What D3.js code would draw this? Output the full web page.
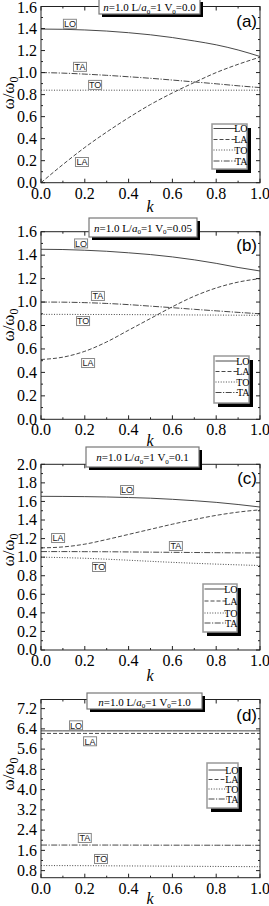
<!DOCTYPE html>
<html><head><meta charset="utf-8">
<script src="https://cdn.jsdelivr.net/npm/d3@7/dist/d3.min.js"></script>
<style>body{margin:0;background:#fff}svg{display:block}</style>
</head><body>
<svg id="chart" width="269" height="906"></svg>
<script>
// ---------- data ----------
const kValues = [0, 0.1, 0.2, 0.3, 0.4, 0.5, 0.6, 0.7, 0.8, 0.9, 1.0];
const modes = ["LO", "LA", "TO", "TA"];
const panelLetters = ["(a)", "(b)", "(c)", "(d)"];
const v0Values = ["0.0", "0.05", "0.1", "1.0"];
const xTickLabels = [0, 0.2, 0.4, 0.6, 0.8, 1.0];

// panel (a) V0 = 0.0
const aLO = [1.395, 1.393, 1.387, 1.377, 1.362, 1.343, 1.318, 1.287, 1.252, 1.205, 1.146];
const aLA = [0.0, 0.165, 0.32, 0.46, 0.59, 0.71, 0.815, 0.91, 1.0, 1.075, 1.14];
const aTO = [0.84, 0.84, 0.84, 0.84, 0.84, 0.84, 0.84, 0.84, 0.84, 0.84, 0.84];
const aTA = [1.0, 0.995, 0.986, 0.975, 0.962, 0.948, 0.932, 0.915, 0.898, 0.88, 0.864];
// panel (b) V0 = 0.05
const bLO = [1.45, 1.448, 1.442, 1.433, 1.42, 1.405, 1.385, 1.36, 1.33, 1.295, 1.265];
const bLA = [0.51, 0.53, 0.58, 0.66, 0.76, 0.86, 0.96, 1.05, 1.12, 1.17, 1.2];
const bTO = [0.895, 0.895, 0.894, 0.894, 0.893, 0.892, 0.891, 0.89, 0.889, 0.888, 0.887];
const bTA = [1.0, 0.999, 0.995, 0.988, 0.978, 0.965, 0.952, 0.938, 0.925, 0.912, 0.9];
// panel (c) V0 = 0.1
const cLO = [1.655, 1.654, 1.652, 1.648, 1.642, 1.635, 1.623, 1.608, 1.59, 1.567, 1.54];
const cLA = [1.1, 1.11, 1.14, 1.19, 1.245, 1.3, 1.355, 1.405, 1.45, 1.485, 1.51];
const cTO = [1.0, 0.995, 0.988, 0.978, 0.967, 0.955, 0.944, 0.934, 0.925, 0.917, 0.91];
const cTA = [1.06, 1.06, 1.059, 1.058, 1.056, 1.054, 1.052, 1.05, 1.048, 1.046, 1.045];
// panel (d) V0 = 1.0
const dLO = [6.32, 6.32, 6.32, 6.32, 6.32, 6.32, 6.32, 6.32, 6.32, 6.32, 6.32];
const dLA = [6.22, 6.22, 6.22, 6.22, 6.22, 6.22, 6.22, 6.22, 6.22, 6.22, 6.22];
const dTO = [1.0, 0.998, 0.995, 0.99, 0.985, 0.98, 0.975, 0.97, 0.965, 0.96, 0.955];
const dTA = [1.81, 1.81, 1.81, 1.81, 1.808, 1.806, 1.805, 1.804, 1.803, 1.802, 1.8];

// y tick labels per panel
const yTicksA = [0, 0.2, 0.4, 0.6, 0.8, 1.0, 1.2, 1.4, 1.6];
const yTicksB = [0, 0.2, 0.4, 0.6, 0.8, 1.0, 1.2, 1.4, 1.6];
const yTicksC = [0, 0.2, 0.4, 0.6, 0.8, 1.0, 1.2, 1.4, 1.6, 1.8, 2.0];
const yTicksD = [0.8, 1.6, 2.4, 3.2, 4.0, 4.8, 5.6, 6.4, 7.2];

// curve label anchor points (k, omega) per panel, order LO, LA, TO, TA
const labelKA = [0.132, 0.187, 0.247, 0.178];
const labelVA = [1.443, 0.188, 0.888, 1.052];
const labelKB = [0.183, 0.215, 0.192, 0.26];
const labelVB = [1.50, 0.48, 0.838, 1.052];
const labelKC = [0.393, 0.078, 0.265, 0.616];
const labelVC = [1.723, 1.206, 0.894, 1.12];
const labelKD = [0.16, 0.224, 0.274, 0.2];
const labelVD = [6.54, 5.91, 1.26, 2.09];

// ---------- layout / style ----------
const panels = [
  {series:[aLO,aLA,aTO,aTA], yDomain:[0,1.6], yTicks:yTicksA, minor:0.1, top:6.5, bottom:182.7, lk:labelKA, lv:labelVA,
   title:{x:99,y:-1,w:101,h:15,ty:11}, legend:{x:212,y:124,w:35,h:45,dy:[4.5,15.5,26,37]}, letterY:27, yTitleY:93, kY:212},
  {series:[bLO,bLA,bTO,bTA], yDomain:[0,1.6], yTicks:yTicksB, minor:0.1, top:231.7, bottom:419.3, lk:labelKB, lv:labelVB,
   title:{x:89,y:218,w:108,h:19,ty:231.5}, legend:{x:214,y:356,w:35,h:47,dy:[5,15.5,26,36.5]}, letterY:251, yTitleY:325, kY:446},
  {series:[cLO,cLA,cTO,cTA], yDomain:[0,2.0], yTicks:yTicksC, minor:0.1, top:464.3, bottom:650, lk:labelKC, lv:labelVC,
   title:{x:86,y:447,w:113,h:20,ty:461}, legend:{x:203,y:584,w:34,h:48,dy:[5,17,29,39]}, letterY:484, yTitleY:550, kY:681},
  {series:[dLO,dLA,dTO,dTA], yDomain:[0.52,7.56], yTicks:yTicksD, minor:0.4, top:699.5, bottom:877.7, lk:labelKD, lv:labelVD,
   title:{x:87,y:693,w:115,h:16,ty:705.5}, legend:{x:207,y:763,w:31,h:45,dy:[7,16.5,26,36]}, letterY:721, yTitleY:774, kY:904}
];
const plotLeft = 41, plotRight = 260;
const dashes = ["none", "4,2", "1,1.6", "6,1.5,1.2,1.5"];
const lineColor = "#333";
const serif = "'Liberation Serif','Times New Roman',serif";
const sans = "'Liberation Sans',Arial,sans-serif";

const svg = d3.select("#chart");

panels.forEach((p, pi) => {
  const g = svg.append("g");
  const x = d3.scaleLinear().domain([0, 1]).range([plotLeft, plotRight]);
  const y = d3.scaleLinear().domain(p.yDomain).range([p.bottom, p.top]);

  // curves
  const line = d3.line().x((d, i) => x(kValues[i])).y(d => y(d)).curve(d3.curveMonotoneX);
  p.series.forEach((s, si) => {
    g.append("path").attr("d", line(s)).attr("fill", "none")
      .attr("stroke", lineColor).attr("stroke-width", 0.9)
      .attr("stroke-dasharray", dashes[si]);
  });

  // frame
  g.append("rect").attr("x", plotLeft).attr("y", p.top)
    .attr("width", plotRight - plotLeft).attr("height", p.bottom - p.top)
    .attr("fill", "none").attr("stroke", "#222").attr("stroke-width", 1);

  // ticks (inward, all four sides)
  const xMinor = d3.range(0.1, 1.0, 0.2);
  const yMin = p.yDomain[0], yMax = p.yDomain[1];
  const yMinor = d3.range(Math.ceil(yMin / p.minor) * p.minor, yMax + 1e-9, p.minor)
    .filter(v => !p.yTicks.some(t => Math.abs(t - v) < 1e-6));
  const tk = g.append("g").attr("stroke", "#222").attr("stroke-width", 1);
  const drawX = (vals, len) => vals.forEach(v => {
    tk.append("line").attr("x1", x(v)).attr("x2", x(v)).attr("y1", p.bottom).attr("y2", p.bottom - len);
    tk.append("line").attr("x1", x(v)).attr("x2", x(v)).attr("y1", p.top).attr("y2", p.top + len);
  });
  const drawY = (vals, len) => vals.forEach(v => {
    tk.append("line").attr("y1", y(v)).attr("y2", y(v)).attr("x1", plotLeft).attr("x2", plotLeft + len);
    tk.append("line").attr("y1", y(v)).attr("y2", y(v)).attr("x1", plotRight).attr("x2", plotRight - len);
  });
  drawX(xTickLabels, 4); drawX(xMinor, 2);
  drawY(p.yTicks, 4); drawY(yMinor, 2);

  // tick labels
  xTickLabels.forEach(v => {
    g.append("text").attr("x", x(v)).attr("y", p.bottom + 16).attr("text-anchor", "middle")
      .attr("font-family", serif).attr("font-size", 16).text(d3.format(".1f")(v));
  });
  p.yTicks.forEach(v => {
    g.append("text").attr("x", plotLeft - 4).attr("y", Math.max(y(v) + 5.3, 12.5)).attr("text-anchor", "end")
      .attr("font-family", serif).attr("font-size", 16).text(d3.format(".1f")(v));
  });

  // axis titles
  g.append("text").attr("x", 150).attr("y", p.kY).attr("text-anchor", "middle")
    .attr("font-family", serif).attr("font-style", "italic").attr("font-size", 16).text("k");
  const yt = g.append("text").attr("transform", `translate(14,${p.yTitleY}) rotate(-90)`)
    .attr("text-anchor", "middle").attr("font-family", serif).attr("font-size", 17);
  yt.append("tspan").text("ω/ω");
  yt.append("tspan").attr("dy", 4).attr("font-size", 12).text("0");

  // panel letter
  g.append("text").attr("x", 257).attr("y", p.letterY).attr("text-anchor", "end")
    .attr("font-family", sans).attr("font-size", 17).text(panelLetters[pi]);

  // title box
  const t = p.title;
  g.append("rect").attr("x", t.x + 3).attr("y", t.y + 3).attr("width", t.w).attr("height", t.h).attr("fill", "#000");
  g.append("rect").attr("x", t.x).attr("y", t.y).attr("width", t.w).attr("height", t.h)
    .attr("fill", "#fff").attr("stroke", "#777").attr("stroke-width", 1.2);
  const tt = g.append("text").attr("x", t.x + t.w / 2).attr("y", t.ty).attr("text-anchor", "middle")
    .attr("font-family", serif).attr("font-size", 11);
  tt.append("tspan").attr("font-style", "italic").text("n");
  tt.append("tspan").text("=1.0 L/");
  tt.append("tspan").attr("font-style", "italic").text("a");
  tt.append("tspan").attr("dy", 2.5).attr("font-size", 7).text("0");
  tt.append("tspan").attr("dy", -2.5).text("=1 V");
  tt.append("tspan").attr("dy", 2.5).attr("font-size", 7).text("0");
  tt.append("tspan").attr("dy", -2.5).text("=" + v0Values[pi]);

  // curve labels
  modes.forEach((m, mi) => {
    const cx = x(p.lk[mi]), cy = y(p.lv[mi]);
    g.append("rect").attr("x", cx - 6.5).attr("y", cy - 4.5).attr("width", 13).attr("height", 9)
      .attr("fill", "#fff").attr("stroke", "#888").attr("stroke-width", 1);
    g.append("text").attr("x", cx).attr("y", cy + 3.3).attr("text-anchor", "middle")
      .attr("font-family", sans).attr("font-size", 9).attr("fill", "#222").text(m);
  });

  // legend
  const L = p.legend;
  g.append("rect").attr("x", L.x + 4).attr("y", L.y + 4).attr("width", L.w).attr("height", L.h).attr("fill", "#000");
  g.append("rect").attr("x", L.x).attr("y", L.y).attr("width", L.w).attr("height", L.h)
    .attr("fill", "#fff").attr("stroke", "#999").attr("stroke-width", 1.5);
  modes.forEach((m, mi) => {
    const ly = L.y + L.dy[mi];
    g.append("line").attr("x1", L.x + 1.5).attr("x2", L.x + L.w - 11).attr("y1", ly).attr("y2", ly)
      .attr("stroke", lineColor).attr("stroke-width", 0.9).attr("stroke-dasharray", dashes[mi]);
    g.append("text").attr("x", L.x + L.w + 0.5).attr("y", ly + 3.5).attr("text-anchor", "end")
      .attr("font-family", serif).attr("font-size", 10).text(m);
  });
});
</script>
</body></html>
